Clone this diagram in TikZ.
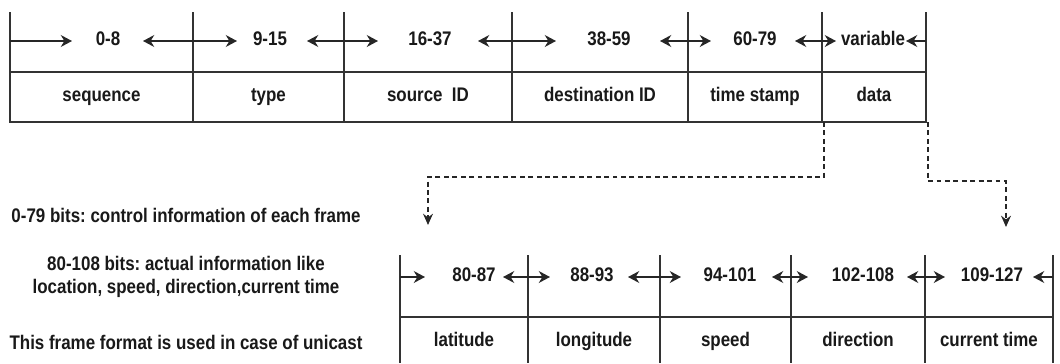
\documentclass[tikz,border=0pt]{standalone}
\usepackage{fontspec}
\setmainfont{Liberation Sans}[FakeStretch=0.86]
\usetikzlibrary{arrows.meta,positioning}
\frenchspacing

\tikzset{
  frameline/.style={line width=1pt, draw=black!80},
  sepline/.style={line width=1.6pt, draw=black!80},
  bitarrow/.style={-{Stealth[length=8pt,width=8.5pt]}, line width=1pt, draw=black!85},
  linkarrow/.style={line width=1.3pt, dash pattern=on 3.5pt off 2.5pt, draw=black!85,
    -{Stealth[length=8pt,width=7pt]}},
  bitlabel/.style={font=\bfseries\fontsize{14}{16}\selectfont, text=black!90, inner sep=0pt,
    text height=10pt, text depth=3pt},
  fieldlabel/.style={bitlabel},
  notetext/.style={font=\bfseries\fontsize{14}{16.4}\selectfont, text=black!90, align=center, inner sep=0pt}
}

\begin{document}
\begin{tikzpicture}[x=0.025cm,y=-0.025cm]
  \useasboundingbox (0,0) rectangle (1060,363);

  % upper frame: control part
  \draw[frameline] (10,12) -- (10,122) -- (926,122) -- (926,12);
  \draw[sepline] (10,72) -- (926,72);
  \foreach \x in {193,344,512,688,822}
    \draw[frameline] (\x,12) -- (\x,122);
  \foreach \l/\r/\m/\a/\b/\bits/\field/\n in {
      10/193/108/72/143/0-8/sequence/seq,
      193/344/270/237/307/9-15/type/typ,
      344/512/430/378/478/16-37/source~ ID/src,
      512/688/609/556/660/38-59/destination ID/dst,
      688/822/755/711/795/60-79/time stamp/tim,
      822/926/873/836/906/variable/data/dat}{
    \coordinate (\n-l) at (\l,41);
    \coordinate (\n-r) at (\r,41);
    \coordinate (\n-a) at (\a,41);
    \coordinate (\n-b) at (\b,41);
    \node[bitlabel] (\n-bits) at (\m,41) {\bits};
    \draw[bitarrow] (\n-l) -- (\n-a);
    \draw[bitarrow] (\n-r) -- (\n-b);
    \node[fieldlabel] (\n-name) at ({(\l+\r)/2},97) {\field};
  }

  % lower frame: data part
  \foreach \x in {400,528,660,791,925,1053}
    \draw[frameline] (\x,255) -- (\x,363);
  \draw[sepline] (400,317) -- (1053,317);
  \foreach \l/\r/\m/\a/\b/\bits/\field/\n in {
      400/528/474/425/503/80-87/latitude/lat,
      528/660/592/550/628/88-93/longitude/lon,
      660/791/730/681/772/94-101/speed/spd,
      791/925/863/808/907/102-108/direction/dir,
      925/1053/992/945/1033/109-127/current time/cur}{
    \coordinate (\n-l) at (\l,277);
    \coordinate (\n-r) at (\r,277);
    \coordinate (\n-a) at (\a,277);
    \coordinate (\n-b) at (\b,277);
    \node[bitlabel] (\n-bits) at (\m,277) {\bits};
    \draw[bitarrow] (\n-l) -- (\n-a);
    \draw[bitarrow] (\n-r) -- (\n-b);
    \node[fieldlabel] (\n-name) at ({(\l+\r)/2},342) {\field};
  }

  % dashed links
  \coordinate (split) at (824,122);
  \coordinate (dataend) at (928,122);
  \coordinate (lowin) at (428,225);
  \coordinate (curin) at (1006,227);
  \draw[linkarrow] (split) -- ++(0,55) -| (lowin);
  \draw[linkarrow] (dataend) -- ++(0,59) -| (curin);

  % notes
  \node[notetext] (ctrl) at (186,215) {0-79 bits: control information of each frame};
  \node[notetext] (info) at (186,277) {80-108 bits: actual information like\\location, speed, direction,current time};
  \node[notetext] (uni) at (186,342) {This frame format is used in case of unicast};
\end{tikzpicture}
\end{document}
